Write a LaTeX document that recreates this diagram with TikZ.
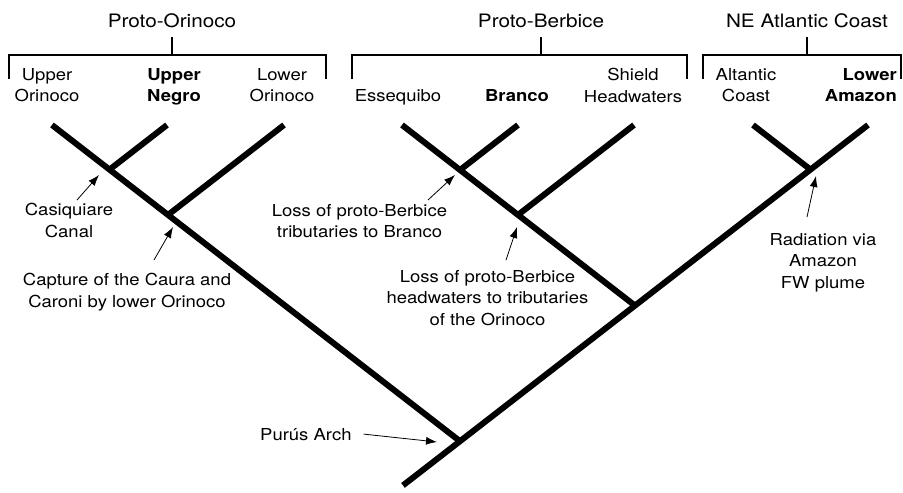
\documentclass[tikz,border=0pt]{standalone}
\usepackage{fontspec}
\setmainfont{TeX Gyre Heros}[FakeStretch=1.12]
\usepackage{tikz}
\usetikzlibrary{arrows.meta, calc}
\tikzstyle{branch} = [line width=6pt, line cap=butt]
\tikzstyle{bracket} = [line width=1.5pt]
\tikzstyle{clade} = [inner sep=0pt, font=\fontsize{18.5}{22}\selectfont]
\tikzstyle{leaf} = [inner sep=0pt, align=center, font=\fontsize{16.5}{21.5}\selectfont]
\tikzstyle{event} = [inner sep=0pt, align=center, font=\fontsize{16.5}{21.5}\selectfont]
\tikzstyle{arrow} = [line width=0.8pt, -{Latex[length=11pt,width=8pt]}]

\begin{document}
\begin{tikzpicture}[x=1pt, y=-1pt]

        \useasboundingbox (0,0) rectangle (903,493);

        % tips of the tree
        \coordinate (tuo) at (52,125) ;
        \coordinate (tun) at (167,125) ;
        \coordinate (tlo) at (284,125) ;
        \coordinate (tes) at (402,125) ;
        \coordinate (tbr) at (518,125) ;
        \coordinate (tsh) at (634,125) ;
        \coordinate (tac) at (753,125) ;
        \coordinate (tla) at (868,125) ;

        % junctions
        \coordinate (root)  at (403,485.4) ;
        \coordinate (purus) at (460,441.2) ;
        \coordinate (cas)   at (109.5,169.6) ;
        \coordinate (capj)  at (168,214.9) ;
        \coordinate (berj)  at (635,305.6) ;
        \coordinate (brj)   at (460,170) ;
        \coordinate (shj)   at (518,214.9) ;
        \coordinate (nej)   at (810.5,169.6) ;

        \draw [branch] (root) -- (tla) ;
        \draw [branch] (purus) -- (tuo) ;
        \draw [branch] (cas) -- (tun) ;
        \draw [branch] (capj) -- (tlo) ;
        \draw [branch] (berj) -- (tes) ;
        \draw [branch] (brj) -- (tbr) ;
        \draw [branch] (shj) -- (tsh) ;
        \draw [branch] (nej) -- (tac) ;

        % clades and brackets
        \node (orititle) [clade, anchor=base] at (172,27) {Proto-Orinoco} ;
        \node (bertitle) [clade, anchor=base] at (541,27) {Proto-Berbice} ;
        \node (netitle)  [clade, anchor=base] at (807,27) {NE Atlantic Coast} ;

        \draw [bracket] (9,79) |- (326,55) -- (326,79) ;
        \draw [bracket] (352,79) |- (687,55) -- (687,79) ;
        \draw [bracket] (703,79) |- (901,55) -- (901,79) ;
        \draw [bracket] (orititle.base) ++(0,10) -- ++(0,18) ;
        \draw [bracket] (bertitle.base) ++(0,10) -- ++(0,18) ;
        \draw [bracket] (netitle.base) ++(0,10) -- ++(0,18) ;

        % leaves
        \node (uol) [leaf, anchor=north] at (47,68) {Upper\\Orinoco} ;
        \node (unl) [leaf, anchor=north, font=\fontsize{16.5}{21.5}\selectfont\bfseries]
            at (174,68) {Upper\\Negro} ;
        \node (lol) [leaf, anchor=north] at (282,68) {Lower\\Orinoco} ;
        \node (esl) [leaf, anchor=base] at (398,101.5) {Essequibo} ;
        \node (brl) [leaf, anchor=base, font=\fontsize{16.5}{21.5}\selectfont\bfseries]
            at (517,101.5) {Branco} ;
        \node (shl) [leaf, anchor=north] at (633,68) {Shield\\Headwaters} ;
        \node (acl) [leaf, anchor=north] at (746,68) {Altantic\\Coast} ;
        \node (lal) [leaf, anchor=north east, align=right,
            font=\fontsize{16.5}{21.5}\selectfont\bfseries]
            at (897,68) {Lower\\Amazon} ;

        % events
        \node (casl) [event, anchor=north] at (69,203) {Casiquiare\\Canal} ;
        \node (capl) [event, anchor=north] at (127,273)
            {Capture of the Caura and\\Caroni by lower Orinoco} ;
        \node (lossa) [event, anchor=north] at (359.5,204)
            {Loss of proto-Berbice\\tributaries to Branco} ;
        \node (lossb) [event, anchor=north] at (487.5,270)
            {Loss of proto-Berbice\\headwaters to tributaries\\of the Orinoco} ;
        \node (radl) [event, anchor=north] at (823,233)
            {Radiation via\\Amazon\\FW plume} ;
        \node (purl) [event, anchor=base west] at (260,440) {Purús Arch} ;

        % arrows
        \coordinate (casp)  at (99,175) ;
        \coordinate (capp)  at (173,227) ;
        \coordinate (lossap) at (455,175) ;
        \coordinate (lossbp) at (517,227) ;
        \coordinate (radp)  at (816,176) ;
        \coordinate (purp)  at (437,442) ;

        \draw [arrow] ([xshift=8pt,yshift=3pt]casl.north) -- (casp) ;
        \draw [arrow] ([xshift=27pt,yshift=13pt]capl.north) -- (capp) ;
        \draw [arrow] ([xshift=68.5pt,yshift=4pt]lossa.north) -- (lossap) ;
        \draw [arrow] ([xshift=18.5pt,yshift=10pt]lossb.north) -- (lossbp) ;
        \draw [arrow] ([xshift=-16pt,yshift=16pt]radl.north) -- (radp) ;
        \draw [arrow] ([xshift=12pt]purl.east) -- (purp) ;

\end{tikzpicture}
\end{document}
